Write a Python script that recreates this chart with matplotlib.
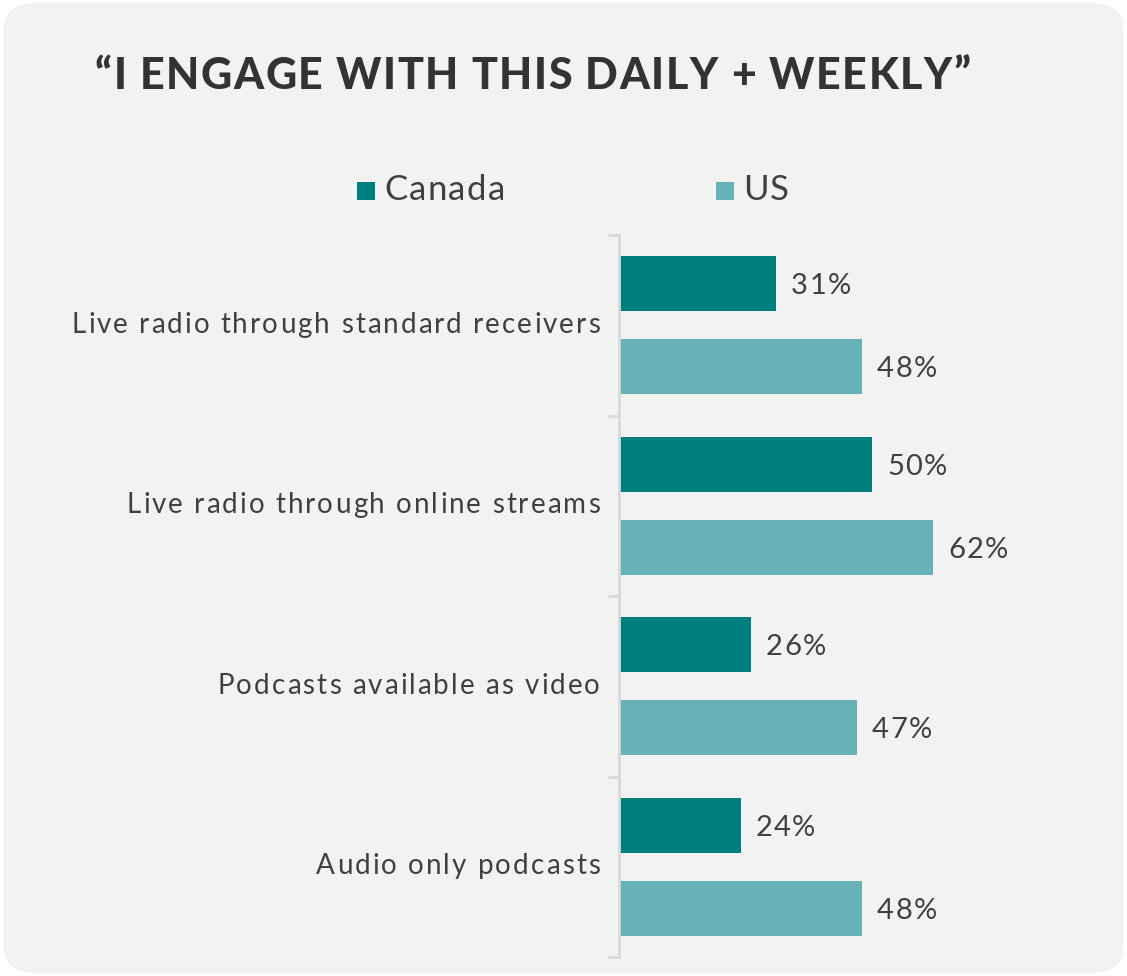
import matplotlib.pyplot as plt
from matplotlib.patches import FancyBboxPatch, Rectangle
from matplotlib.font_manager import FontProperties, findfont
from matplotlib.ft2font import FT2Font
import numpy as np

categories = ["Live radio through standard receivers",
              "Live radio through online streams",
              "Podcasts available as video",
              "Audio only podcasts"]
canada = [31, 50, 26, 24]
us = [48, 62, 47, 48]
series_names = ["Canada", "US"]
title = "\u201cI ENGAGE WITH THIS DAILY + WEEKLY\u201d"

dark = "#007f81"
light = "#66b2b6"
txt = "#404040"

W, H = 1127, 976
plt.rcParams["font.family"] = ["Lato", "DejaVu Sans"]

fig = plt.figure(figsize=(W / 100, H / 100), dpi=100)
fig.patch.set_facecolor("white")


def spaced(x, y, s, size, track, ha="left", weight="normal", color=txt):
    """Draw s with extra letter spacing; x, y in pixels from top-left, y = baseline."""
    fp = FontProperties(family="Lato", weight=weight, size=size)
    font = FT2Font(findfont(fp))
    font.set_size(size, 100)
    adv = [font.load_char(ord(c)).linearHoriAdvance / 65536 for c in s]
    tr = track * size * 100 / 72
    total = sum(adv) + tr * (len(s) - 1)
    x0 = x - total if ha == "right" else x
    for c, a in zip(s, adv):
        if c != " ":
            fig.text(x0 / W, 1 - y / H, c, fontproperties=fp, color=color,
                     ha="left", va="baseline")
        x0 += a + tr


# rounded grey panel behind everything
panel = FancyBboxPatch((0.003, 0.003), 0.994, 0.994,
                       boxstyle="round,pad=0,rounding_size=0.028",
                       transform=fig.transFigure, facecolor="#f2f2f2",
                       edgecolor="none", zorder=-10)
fig.patches.append(panel)

spaced(95, 89, title, 31, 0.035, weight="black", color="#333333")

ax = fig.add_axes([619 / W, 1 - 957 / H, 481 / W, 722 / H])
ax.set_facecolor("none")

y = np.arange(len(categories))
h = 0.305
off = 0.23
ax.barh(y - off, canada, height=h, color=dark)
ax.barh(y + off, us, height=h, color=light)

ax.set_xlim(0, 95)
ax.set_ylim(len(categories) - 0.5, -0.5)

for s in ["top", "right", "bottom"]:
    ax.spines[s].set_visible(False)
ax.spines["left"].set_color("#d9d9d9")
ax.spines["left"].set_linewidth(2)
ax.set_xticks([])
ax.set_yticks(y)
ax.set_yticklabels([])
ax.tick_params(axis="y", which="major", length=0)
ax.set_yticks(np.arange(-0.5, len(categories)), minor=True)
ax.tick_params(axis="y", which="minor", length=8, width=2, color="#d9d9d9")


def to_px(xv, yv):
    px, py = ax.transData.transform((xv, yv))
    return px, H - py


# category labels and value labels
for i, cat in enumerate(categories):
    _, cy = to_px(0, y[i])
    spaced(600, cy + 7.5, cat, 20, 0.075, ha="right")
    for val, yy in [(canada[i], y[i] - off), (us[i], y[i] + off)]:
        bx, by = to_px(val, yy)
        spaced(bx + 15, by + 10.5, f"{val}%", 21, 0.05)

# legend drawn as squares and labels
for xs, name, col in [(357, series_names[0], dark), (716, series_names[1], light)]:
    fig.patches.append(Rectangle((xs / W, 1 - 200 / H), 18 / W, 18 / H,
                                 transform=fig.transFigure, facecolor=col,
                                 edgecolor="none"))
    spaced(xs + 27, 200, name, 25, 0.04)

fig.savefig("out.png", dpi=100, facecolor=fig.get_facecolor())
